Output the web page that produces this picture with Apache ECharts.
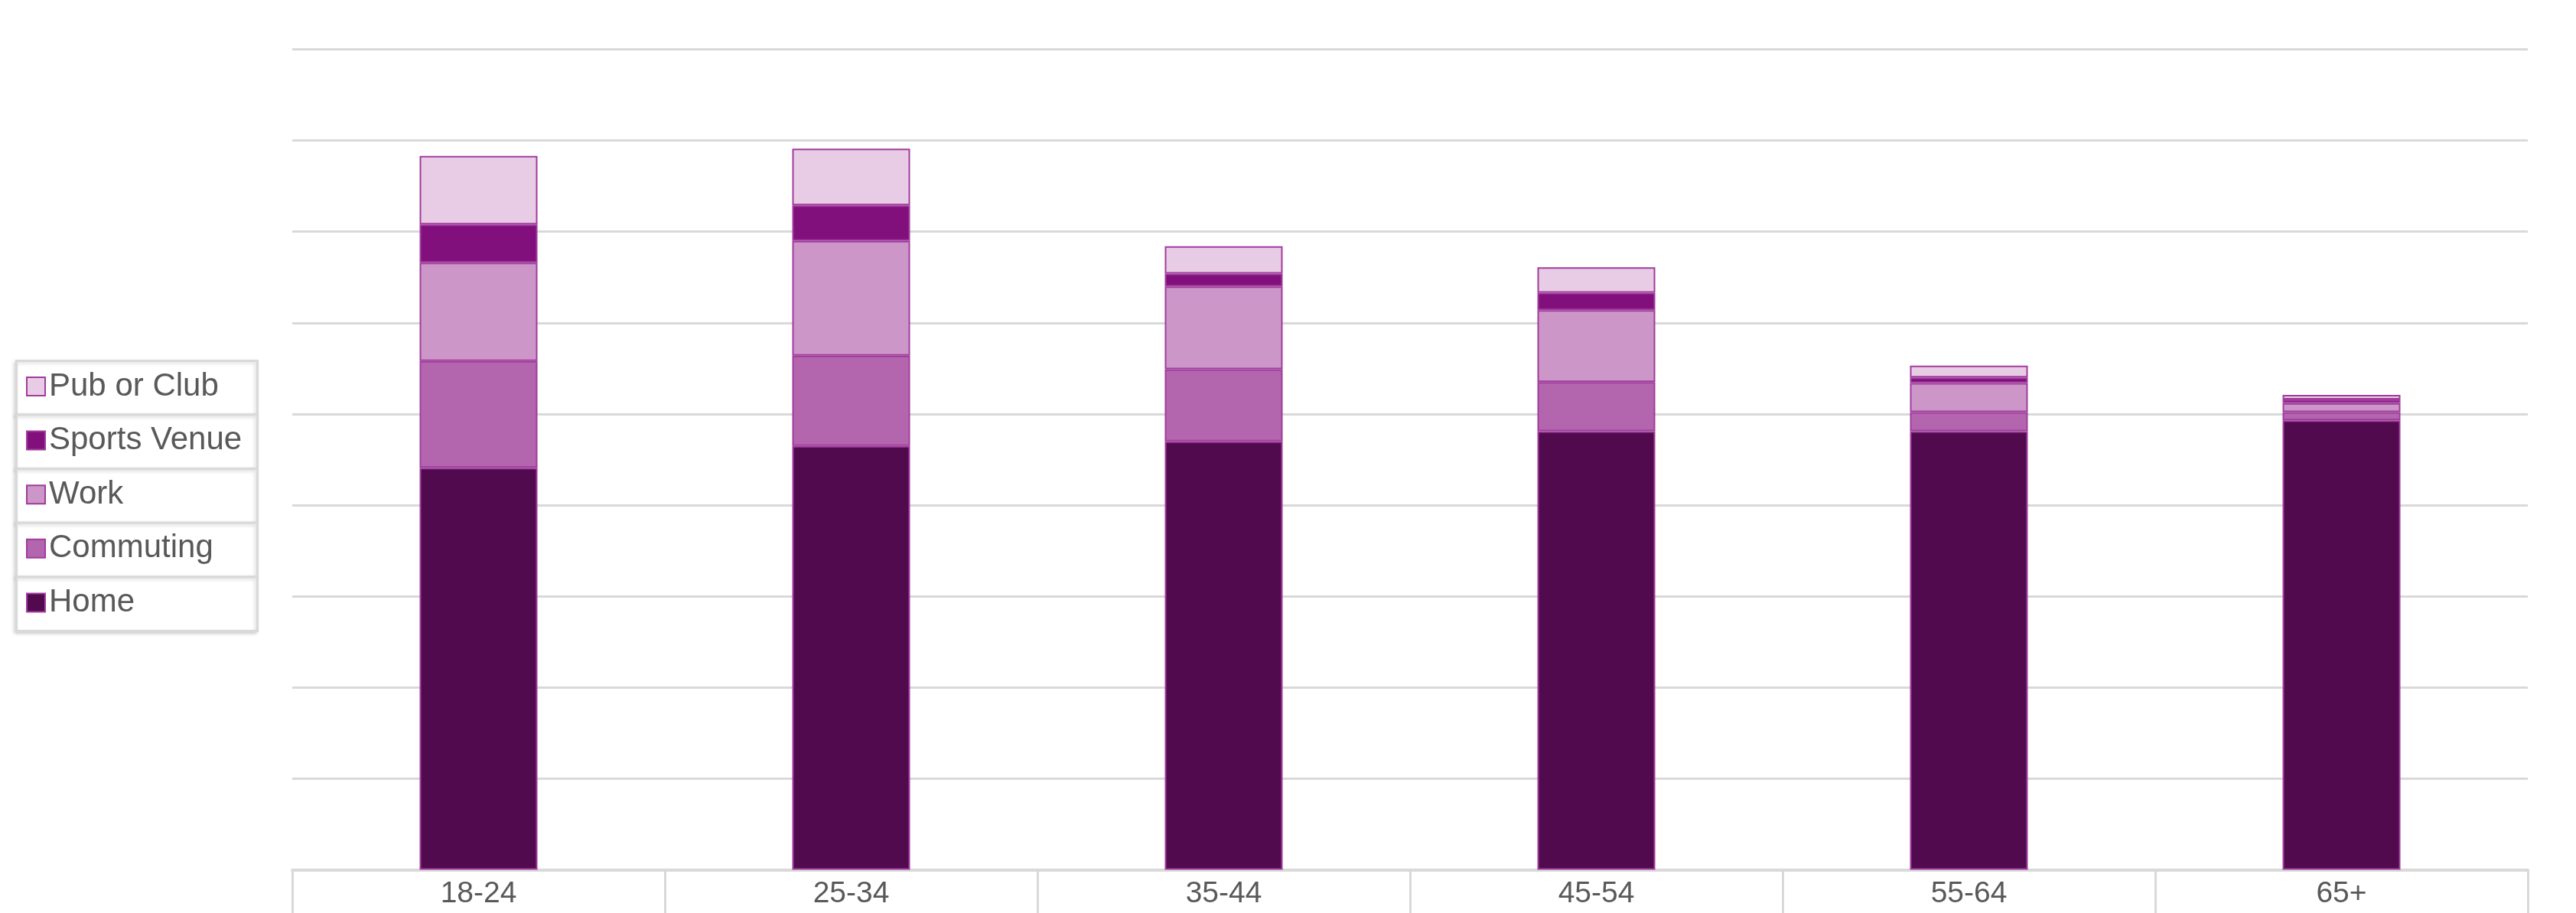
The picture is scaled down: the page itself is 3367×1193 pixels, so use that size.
<!DOCTYPE html>
<html>
<head>
<meta charset="utf-8">
<script src="https://cdn.jsdelivr.net/npm/echarts@6/dist/echarts.min.js"></script>
<style>
  html, body { margin: 0; padding: 0; background: #fff; }
  #chart { width: 3367px; height: 1193px; }
</style>
</head>
<body>
<div id="chart"></div>
<script>
// age groups on the x axis
var ageGroups = ['18-24', '25-34', '35-44', '45-54', '55-64', '65+']

// stacked values (y axis 0-90)
var home = [44.1, 46.5, 47.0, 48.1, 48.1, 49.3]
var commuting = [11.7, 9.9, 7.9, 5.4, 2.1, 0.9]
var work = [10.8, 12.6, 9.1, 7.9, 3.2, 1.0]
var sportsVenue = [4.2, 3.9, 1.4, 1.9, 0.6, 0.4]
var pubOrClub = [7.5, 6.2, 3.0, 2.8, 1.3, 0.5]

var legendOrder = ['Pub or Club', 'Sports Venue', 'Work', 'Commuting', 'Home']

var chart = echarts.init(document.getElementById('chart'))

var font = 'Liberation Sans, Arial, sans-serif'
var edge = '#a03c9c'

function barSeries(name, data, color) {
  return {
    name: name,
    type: 'bar',
    stack: 'total',
    barWidth: 154,
    data: data,
    itemStyle: {
      color: color,
      borderColor: edge,
      borderWidth: 2
    }
  }
}

// boxes behind the legend rows
var legendBoxes = []
for (var i = 0; i < legendOrder.length; i++) {
  legendBoxes.push({
    type: 'rect',
    left: 20,
    top: 470 + i * 70.6,
    shape: { width: 315, height: 70.6 },
    style: {
      fill: '#fff',
      stroke: '#d9d9d9',
      lineWidth: 3,
      shadowBlur: 4,
      shadowColor: 'rgba(0,0,0,0.15)',
      shadowOffsetX: -2,
      shadowOffsetY: 2
    }
  })
}

chart.setOption({
  animation: false,
  backgroundColor: '#fff',
  grid: {
    left: 382,
    right: 63,
    top: 64.5,
    bottom: 56.5
  },
  graphic: legendBoxes,
  legend: {
    orient: 'vertical',
    left: 34,
    top: 484,
    padding: 0,
    itemGap: 28.6,
    itemWidth: 24,
    itemHeight: 24,
    icon: 'rect',
    data: legendOrder,
    textStyle: {
      fontFamily: font,
      fontSize: 42,
      lineHeight: 42,
      color: '#595959'
    }
  },
  xAxis: {
    type: 'category',
    data: ageGroups,
    axisLine: { lineStyle: { color: '#d9d9d9', width: 4 } },
    axisTick: {
      show: true,
      interval: 0,
      length: 60,
      lineStyle: { color: '#d9d9d9', width: 3 }
    },
    axisLabel: {
      fontFamily: font,
      fontSize: 39,
      color: '#595959',
      margin: 12
    }
  },
  yAxis: {
    type: 'value',
    min: 0,
    max: 90,
    interval: 10,
    axisLabel: { show: false },
    axisLine: { show: false },
    axisTick: { show: false },
    splitLine: { lineStyle: { color: '#d9d9d9', width: 3 } }
  },
  series: [
    barSeries('Home', home, '#520a4f'),
    barSeries('Commuting', commuting, '#b366ae'),
    barSeries('Work', work, '#cc97c8'),
    barSeries('Sports Venue', sportsVenue, '#82107c'),
    barSeries('Pub or Club', pubOrClub, '#e8cce5')
  ]
})
</script>
</body>
</html>
